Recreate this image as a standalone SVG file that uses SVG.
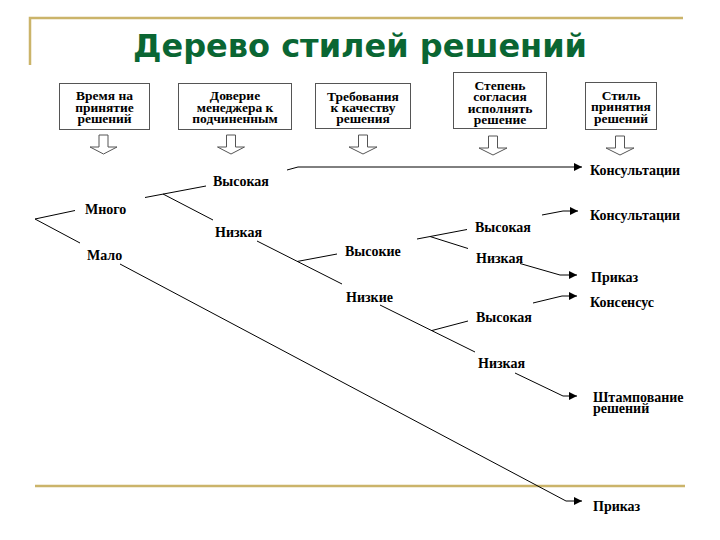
<svg xmlns="http://www.w3.org/2000/svg" width="720" height="540" viewBox="0 0 720 540">
<defs>
<style>
.gold{stroke:#cbb46a;stroke-width:2.5;fill:none}
.title{font-family:"DejaVu Sans",sans-serif;font-weight:bold;font-size:32px;fill:#0a6633}
.box{fill:#fff;stroke:#555;stroke-width:1}
.bt{font-family:"Liberation Serif","Times New Roman",serif;font-weight:bold;font-size:13.5px;fill:#000;text-anchor:middle}
.lb{font-family:"Liberation Serif","Times New Roman",serif;font-weight:bold;font-size:14px;fill:#000}
.hol{fill:#fff;stroke:#555;stroke-width:1}
.ln{fill:none;stroke:#000;stroke-width:1}
.arr{fill:none;stroke:#000;stroke-width:1;marker-end:url(#ah)}
</style>
<marker id="ah" markerUnits="userSpaceOnUse" markerWidth="9" markerHeight="8" refX="8" refY="4" orient="auto">
<path d="M0,0 L8,4 L0,8 z" fill="#000"/>
</marker>
</defs>
<g id="frame">
<polyline class="gold" points="30,65 30,18 683,18"/>
<line class="gold" x1="35" y1="486" x2="685" y2="486"/>
</g>
<text class="title" x="360" y="57" text-anchor="middle">Дерево стилей решений</text>
<g id="box1">
<rect class="box" x="59.5" y="83.5" width="90" height="46"/>
<text class="bt" x="104.5" y="100">Время на</text>
<text class="bt" x="104.5" y="111.5">принятие</text>
<text class="bt" x="104.5" y="123">решений</text>
</g>
<g id="box2">
<rect class="box" x="178.5" y="83.5" width="113" height="46"/>
<text class="bt" x="235" y="100">Доверие</text>
<text class="bt" x="235" y="111.5">менеджера к</text>
<text class="bt" x="235" y="123">подчиненным</text>
</g>
<g id="box3">
<rect class="box" x="315.5" y="83.5" width="95" height="45"/>
<text class="bt" x="363" y="100.5">Требования</text>
<text class="bt" x="363" y="111.5">к качеству</text>
<text class="bt" x="363" y="122.5">решения</text>
</g>
<g id="box4">
<rect class="box" x="453.5" y="72.5" width="93" height="56"/>
<text class="bt" x="500" y="89.5">Степень</text>
<text class="bt" x="500" y="101">согласия</text>
<text class="bt" x="500" y="112.5">исполнять</text>
<text class="bt" x="500" y="124">решение</text>
</g>
<g id="box5">
<rect class="box" x="585.5" y="82.5" width="71" height="47"/>
<text class="bt" x="621" y="100">Стиль</text>
<text class="bt" x="621" y="111">принятия</text>
<text class="bt" x="621" y="122.5">решений</text>
</g>
<g id="hollow-arrows">
<polygon class="hol" points="99,135 108,135 108,147 117,147 103.5,154 90,147 99,147"/>
<polygon class="hol" points="226.5,135 235.5,135 235.5,147 244.5,147 231,154 217.5,147 226.5,147"/>
<polygon class="hol" points="358.5,135 367.5,135 367.5,147 377,147 363,154 349,147 358.5,147"/>
<polygon class="hol" points="488.5,136 497.5,136 497.5,148 507,148 493,155 479,148 488.5,148"/>
<polygon class="hol" points="615.5,136 624.5,136 624.5,148 634,148 620,155 606,148 615.5,148"/>
</g>
<g id="labels">
<text class="lb" x="85" y="214">Много</text>
<text class="lb" x="87" y="260">Мало</text>
<text class="lb" x="213" y="186">Высокая</text>
<text class="lb" x="215" y="237">Низкая</text>
<text class="lb" x="345" y="256">Высокие</text>
<text class="lb" x="346" y="302">Низкие</text>
<text class="lb" x="475" y="232">Высокая</text>
<text class="lb" x="476" y="263">Низкая</text>
<text class="lb" x="476" y="322">Высокая</text>
<text class="lb" x="478" y="368">Низкая</text>
<text class="lb" x="590" y="175">Консультации</text>
<text class="lb" x="590" y="220">Консультации</text>
<text class="lb" x="591" y="282">Приказ</text>
<text class="lb" x="590" y="307">Консенсус</text>
<text class="lb" x="593" y="402">Штампование</text>
<text class="lb" x="593" y="413">решений</text>
<text class="lb" x="593" y="511">Приказ</text>
</g>
<g id="connectors">
<line class="ln" x1="35" y1="219" x2="75" y2="210.5"/>
<line class="ln" x1="35" y1="219" x2="80" y2="243"/>
<line class="ln" x1="145" y1="197.5" x2="206" y2="186"/>
<line class="ln" x1="163" y1="194" x2="213" y2="220"/>
<polyline class="arr" points="287,170 298,167 582,167"/>
<line class="ln" x1="257" y1="241" x2="342" y2="284"/>
<line class="ln" x1="297" y1="261.5" x2="337" y2="254"/>
<line class="ln" x1="380" y1="305" x2="475" y2="352"/>
<line class="ln" x1="432" y1="330.5" x2="468" y2="321"/>
<line class="ln" x1="417" y1="239" x2="467" y2="229.5"/>
<line class="ln" x1="430" y1="236.5" x2="468" y2="248.5"/>
<polyline class="arr" points="542,215 563,211 578,211"/>
<polyline class="arr" points="520,263.5 560,275 577,275"/>
<polyline class="arr" points="533,303 562,296 577,296"/>
<polyline class="arr" points="515,373 563,396 577,396"/>
<polyline class="arr" points="120,264 566,501 582,501"/>
</g>
</svg>
